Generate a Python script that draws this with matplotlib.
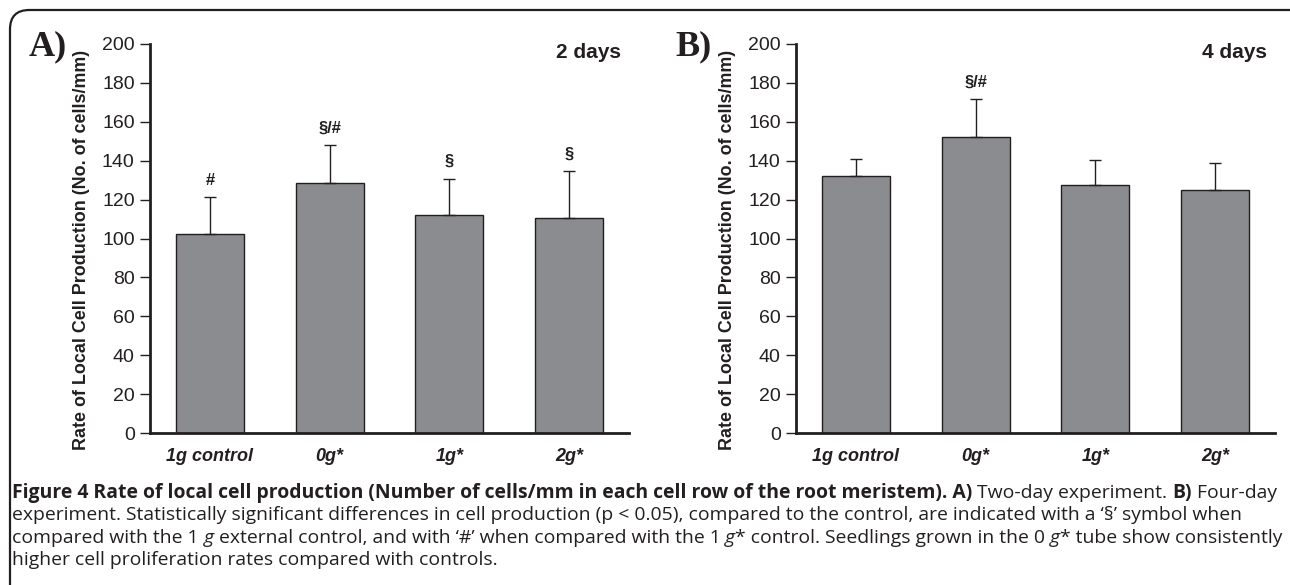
import matplotlib
matplotlib.use("Agg")
import matplotlib.pyplot as plt
from matplotlib import font_manager
from matplotlib.patches import FancyBboxPatch

# ---------------- data ----------------
categories = ["1g control", "0g*", "1g*", "2g*"]
days2_values = [102.3, 128.6, 112.0, 110.6]
days2_err = [18.9, 19.5, 18.7, 24.0]
days2_marks = ["#", "§/#", "§", "§"]
days4_values = [131.9, 152.4, 127.3, 124.7]
days4_err = [8.9, 19.2, 13.2, 14.1]
days4_marks = ["", "§/#", "", ""]
yticks = [0, 20, 40, 60, 80, 100, 120, 140, 160, 180, 200]
panel_labels = ["A)", "B)"]
panel_titles = ["2 days", "4 days"]
ylabel = "Rate of Local Cell Production (No. of cells/mm)"

W, H = 1290, 585
fig = plt.figure(figsize=(W / 100, H / 100), dpi=100)
fig.patch.set_facecolor("white")

names = {f.name for f in font_manager.fontManager.ttflist}
SANS = "Liberation Sans" if "Liberation Sans" in names else "DejaVu Sans"
SERIF = "Liberation Serif" if "Liberation Serif" in names else "DejaVu Serif"
CAP = "Open Sans" if "Open Sans" in names else SANS

BAR = "#8b8c90"
INK = "#231f20"

# frame
frame = FancyBboxPatch((10 / W, -0.2), (W + 40) / W, 1.2 - 10 / H,
                       boxstyle="round,pad=0,rounding_size=0.015",
                       transform=fig.transFigure, fill=False,
                       edgecolor=INK, linewidth=1.6, mutation_aspect=W / H)
fig.patches.append(frame)

axes_lefts = [150, 796]
axes_width = 479
y0_px, y200_px = 433, 44


def draw_panel(ax, values, errs, marks):
    x = list(range(len(categories)))
    ax.bar(x, values, width=0.567, color=BAR, edgecolor=INK, linewidth=1.0, zorder=2)
    ax.errorbar(x, values, yerr=[[0] * len(errs), errs], fmt="none",
                ecolor=INK, elinewidth=1.0, capsize=4, capthick=1.0, zorder=3)
    for xi, v, e, m in zip(x, values, errs, marks):
        if m:
            ax.text(xi, v + e + 5, m, ha="center", va="bottom",
                    fontsize=12, fontweight="bold", family=SANS, color=INK)
    ax.set_xlim(-0.5, len(categories) - 0.5)
    ax.set_ylim(0, 200)
    ax.set_yticks(yticks)
    ax.set_yticklabels([str(t) for t in yticks], family=SANS, fontsize=14, color=INK)
    ax.set_xticks(x)
    ax.set_xticklabels(categories, family=SANS, fontsize=13, fontweight="bold",
                       fontstyle="italic", color=INK)
    ax.tick_params(axis="x", length=0, pad=11)
    ax.tick_params(axis="y", length=7, width=1.0, pad=4, color=INK)
    for s in ["top", "right"]:
        ax.spines[s].set_visible(False)
    for s in ["left", "bottom"]:
        ax.spines[s].set_linewidth(2.0)
        ax.spines[s].set_color(INK)


panels = [(days2_values, days2_err, days2_marks), (days4_values, days4_err, days4_marks)]
for i, (vals, errs, marks) in enumerate(panels):
    left = axes_lefts[i]
    ax = fig.add_axes([left / W, 1 - y0_px / H, axes_width / W, (y0_px - y200_px) / H])
    draw_panel(ax, vals, errs, marks)
    fig.text((left + 471) / W, 1 - 58 / H, panel_titles[i], ha="right", va="baseline",
             fontsize=15, fontweight="bold", family=SANS, color=INK)
    fig.text((left - 121) / W, 1 - 55 / H, panel_labels[i], ha="left", va="baseline",
             fontsize=26, fontweight="bold", family=SERIF, color=INK)
    fig.text((left - 69) / W, 1 - 250 / H, ylabel, rotation=90, ha="center", va="center",
             fontsize=12.9, fontweight="bold", family=SANS, color=INK)

# ---------------- caption ----------------
caption_lines = [
    [("Figure 4 Rate of local cell production (Number of cells/mm in each cell row of the root meristem). A)", "bold", "normal"),
     (" Two-day experiment. ", "normal", "normal"),
     ("B)", "bold", "normal"),
     (" Four-day", "normal", "normal")],
    [("experiment. Statistically significant differences in cell production (p < 0.05), compared to the control, are indicated with a \u2018\u00a7\u2019 symbol when", "normal", "normal")],
    [("compared with the 1 ", "normal", "normal"), ("g", "normal", "italic"),
     (" external control, and with \u2018#\u2019 when compared with the 1 ", "normal", "normal"),
     ("g", "normal", "italic"), ("* control. Seedlings grown in the 0 ", "normal", "normal"),
     ("g", "normal", "italic"), ("* tube show consistently", "normal", "normal")],
    [("higher cell proliferation rates compared with controls.", "normal", "normal")],
]
baselines = [498, 520, 543, 565]
x_start = 12
target_w = 1283 - x_start

renderer = fig.canvas.get_renderer()


def line_width(runs, size):
    total = 0
    for txt, wt, st in runs:
        t = fig.text(0, 0, txt, fontsize=size, fontweight=wt, fontstyle=st, family=CAP)
        total += t.get_window_extent(renderer).width
        t.remove()
    return total


size0 = 11.0
w1 = line_width(caption_lines[0], size0)
w3 = line_width(caption_lines[2], size0)
cap_size = size0 * target_w / ((w1 + w3) / 2)

for runs, base in zip(caption_lines, baselines):
    xpx = x_start
    for txt, wt, st in runs:
        t = fig.text(xpx / W, 1 - base / H, txt, fontsize=cap_size, fontweight=wt,
                     fontstyle=st, family=CAP, color=INK, va="baseline", ha="left")
        xpx += t.get_window_extent(renderer).width

fig.savefig("out.png", dpi=100)
